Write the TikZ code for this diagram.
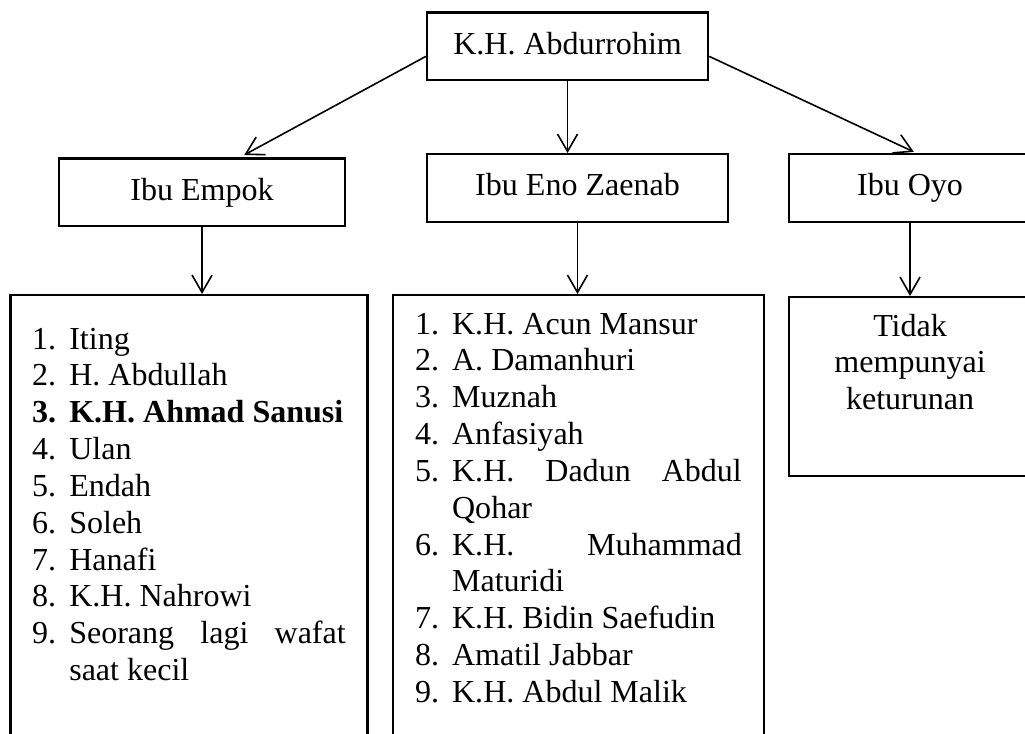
\documentclass[tikz,border=0pt]{standalone}
\usepackage{fontspec}
\setmainfont{Liberation Serif}
\usepackage{enumitem}
\usetikzlibrary{arrows.meta}
\hyphenpenalty=10000
\exhyphenpenalty=10000
\tolerance=10000
\frenchspacing
\begin{document}
\begin{tikzpicture}[font=\fontsize{12}{13.8}\selectfont]
    \tikzset{%
      kotak/.style={draw, line width=0.9pt, minimum height=0.89cm, inner sep=0pt, text height=1.5ex, text depth=.25ex},
      daftar/.style={draw, line width=0.9pt, anchor=north, inner xsep=8.2pt, inner ysep=0pt, align=justify},
      panah/.style={line width=0.6pt, -{Straight Barb[length=6.5pt, width=7.5pt]}}
      }
    \useasboundingbox (0, 0) rectangle (13.5, 9.667);

    \node [kotak, minimum width=3.70cm] (Xabd) at (7.475, 9.055) {K.H. Abdurrohim};

    \node [kotak, minimum width=3.767cm] (Xemp) at (2.661, 7.132) {Ibu Empok};
    \node [kotak, minimum width=3.964cm] (Xeno) at (7.606, 7.191) {Ibu Eno Zaenab};
    \node [kotak, minimum width=3.187cm] (Xoyo) at (11.986, 7.191) {Ibu Oyo};
    \draw [panah, shorten >=2pt] (Xabd.184) -- (Xemp.43);
    \draw [panah] (Xabd.south) -- (Xabd.south |- Xeno.north);
    \draw [panah, shorten >=1pt] (Xabd.356) -- (Xoyo.80);

    \node [daftar, text width=117.5pt, text height=6.4pt, text depth=168pt] (Xlemp) at (2.489, 5.795) {%
      \begin{enumerate}[label=\arabic*., nosep, leftmargin=13.9pt, labelwidth=13.9pt, labelsep=0pt, align=left]
        \item Iting
        \item H. Abdullah
        \item[\textbf{3.}]\stepcounter{enumi}\textbf{K.H. Ahmad Sanusi}
        \item Ulan
        \item Endah
        \item Soleh
        \item Hanafi
        \item K.H. Nahrowi
        \item Seorang lagi wafat\linebreak saat kecil
      \end{enumerate}};
    \draw [panah] (Xemp.south) -- (Xemp.south |- Xlemp.north);

    \node [daftar, text width=122.5pt, text height=0.8pt, text depth=174pt] (Xleno) at (7.619, 5.795) {%
      \begin{enumerate}[label=\arabic*., nosep, leftmargin=13.9pt, labelwidth=13.9pt, labelsep=0pt, align=left]
        \item K.H. Acun Mansur
        \item A. Damanhuri
        \item Muznah
        \item Anfasiyah
        \item K.H. Dadun Abdul\linebreak Qohar
        \item K.H. Muhammad\linebreak Maturidi
        \item K.H. Bidin Saefudin
        \item Amatil Jabbar
        \item K.H. Abdul Malik
      \end{enumerate}};
    \draw [panah] (Xeno.south) -- (Xeno.south |- Xleno.north);

    \node [daftar, align=center, text width=74.2pt, text height=14.6pt, text depth=52.5pt] (Xloyo) at (11.986, 5.769) {Tidak\\ mempunyai\\ keturunan};
    \draw [panah] (Xoyo.south) -- (Xoyo.south |- Xloyo.north);
  \end{tikzpicture}
\end{document}
